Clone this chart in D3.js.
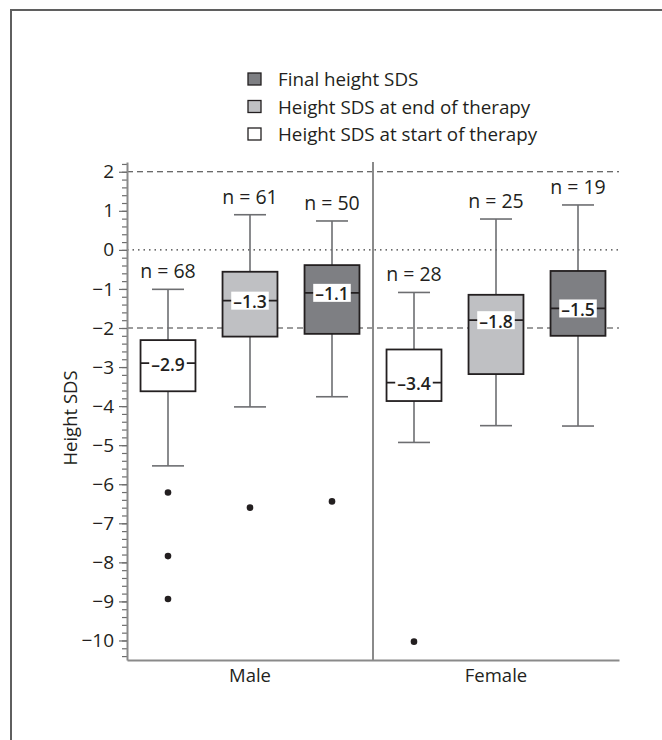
<!DOCTYPE html>
<html>
<head>
<meta charset="utf-8">
<script src="https://cdn.jsdelivr.net/npm/d3@7"></script>
<style>
  html, body { margin: 0; padding: 0; background: #fff; }
  svg { display: block; font-family: "Open Sans", "Noto Sans", sans-serif; }
</style>
</head>
<body>
<svg id="chart" width="662" height="740"></svg>
<script>
// Groups and the three measurement series shown in each group
const groups = ["Male", "Female"];
const series = ["Height SDS at start of therapy", "Height SDS at end of therapy", "Final height SDS"];
const seriesFill = ["#ffffff", "#bfc0c3", "#7e7f83"];

// One entry per box: Male start, end, final, Female start, end, final
const boxGroup  = [0, 0, 0, 1, 1, 1];
const boxSeries = [0, 1, 2, 0, 1, 2];
const nCounts     = [68, 61, 50, 28, 25, 19];
const medians     = [-2.9, -1.3, -1.1, -3.4, -1.8, -1.5];
const q1          = [-3.62, -2.22, -2.15, -3.87, -3.18, -2.20];
const q3          = [-2.31, -0.56, -0.39, -2.55, -1.15, -0.54];
const whiskerLow  = [-5.53, -4.02, -3.76, -4.93, -4.50, -4.51];
const whiskerHigh = [-1.01, 0.90, 0.74, -1.09, 0.79, 1.15];
const outliers    = [[-6.21, -7.84, -8.94], [-6.60], [-6.44], [-10.03], [], []];

// Axis ticks and reference lines
const yTicks = d3.range(-10, 3, 1);
const yMinorTicks = d3.range(-10.4, 2.21, 0.2).map(v => +v.toFixed(1));
const refDashed = [2, -2];
const refDotted = [0];

const svg = d3.select("#chart");
const plotLeft = 127, plotRight = 619, plotTop = 162, plotBottom = 660;

// Outer frame
svg.append("rect")
  .attr("x", 11).attr("y", 10).attr("width", 720).attr("height", 800)
  .attr("fill", "none").attr("stroke", "#5f5f5f").attr("stroke-width", 2);

const y = d3.scaleLinear().domain([-10.5, 2.25]).range([plotBottom, plotTop]);
const x = d3.scaleBand().domain(d3.range(nCounts.length)).range([plotLeft, plotRight])
  .paddingInner(0.33).paddingOuter(0.165);
const xg = d3.scaleBand().domain(groups).range([plotLeft, plotRight]);

// Reference lines
svg.selectAll("line.dash").data(refDashed).join("line")
  .attr("x1", plotLeft).attr("x2", plotRight)
  .attr("y1", d => y(d)).attr("y2", d => y(d))
  .attr("stroke", "#3a3a3a").attr("stroke-width", 1.2).attr("stroke-dasharray", "6,4");
svg.selectAll("line.dot").data(refDotted).join("line")
  .attr("x1", plotLeft).attr("x2", plotRight)
  .attr("y1", d => y(d)).attr("y2", d => y(d))
  .attr("stroke", "#3a3a3a").attr("stroke-width", 1.4).attr("stroke-dasharray", "1.5,4");

// Separator between groups
const sepX = xg.range()[0] + xg.step();
svg.append("line")
  .attr("x1", sepX).attr("x2", sepX)
  .attr("y1", plotTop).attr("y2", plotBottom)
  .attr("stroke", "#8a8a8a").attr("stroke-width", 2);

// Y axis: minor then major ticks
const minorAxis = svg.append("g").attr("transform", `translate(${plotLeft},0)`)
  .call(d3.axisLeft(y).tickValues(yMinorTicks).tickSize(5).tickFormat("").tickSizeOuter(0));
minorAxis.select(".domain").remove();
minorAxis.selectAll("line").attr("stroke", "#6d6d6d").attr("stroke-width", 1.2);

const yAxis = svg.append("g").attr("transform", `translate(${plotLeft},0)`)
  .call(d3.axisLeft(y).tickValues(yTicks).tickSize(8).tickPadding(5).tickSizeOuter(0)
    .tickFormat(d => d < 0 ? "\u2212" + Math.abs(d) : d));
yAxis.select(".domain").attr("stroke", "#8a8a8a").attr("stroke-width", 2);
yAxis.selectAll("line").attr("stroke", "#6d6d6d").attr("stroke-width", 1.2);
yAxis.selectAll("text").attr("font-size", 19).attr("fill", "#231f20")
  .attr("font-family", "'Open Sans', sans-serif");

// X axis baseline with group labels
const xAxis = svg.append("g").attr("transform", `translate(0,${plotBottom})`)
  .call(d3.axisBottom(xg).tickSize(0).tickPadding(9).tickSizeOuter(0));
xAxis.select(".domain").attr("stroke", "#8a8a8a").attr("stroke-width", 2);
xAxis.selectAll("text").attr("font-size", 18.5).attr("fill", "#231f20")
  .attr("font-family", "'Open Sans', sans-serif");

// Y axis title
svg.append("text")
  .attr("transform", `translate(72,${(plotTop + plotBottom) / 2 + 7}) rotate(-90)`)
  .attr("text-anchor", "middle").attr("dominant-baseline", "middle")
  .attr("font-size", 18.5).attr("fill", "#231f20").text("Height SDS");

// Boxes
const idx = d3.range(nCounts.length);
const bw = x.bandwidth();
const cx = i => x(i) + bw / 2;
const capW = 32;

const box = svg.selectAll("g.box").data(idx).join("g").attr("class", "box");

// whisker stems
box.append("line")
  .attr("x1", cx).attr("x2", cx)
  .attr("y1", i => y(whiskerHigh[i])).attr("y2", i => y(q3[i]))
  .attr("stroke", "#6d6e71").attr("stroke-width", 1.6);
box.append("line")
  .attr("x1", cx).attr("x2", cx)
  .attr("y1", i => y(q1[i])).attr("y2", i => y(whiskerLow[i]))
  .attr("stroke", "#6d6e71").attr("stroke-width", 1.6);
// caps
[whiskerHigh, whiskerLow].forEach(arr => {
  box.append("line")
    .attr("x1", i => cx(i) - capW / 2).attr("x2", i => cx(i) + capW / 2)
    .attr("y1", i => y(arr[i])).attr("y2", i => y(arr[i]))
    .attr("stroke", "#6d6e71").attr("stroke-width", 1.6);
});
// box body
box.append("rect")
  .attr("x", i => x(i)).attr("width", bw)
  .attr("y", i => y(q3[i])).attr("height", i => y(q1[i]) - y(q3[i]))
  .attr("fill", i => seriesFill[boxSeries[i]])
  .attr("stroke", "#231f20").attr("stroke-width", 1.8);
// median line
box.append("line")
  .attr("x1", i => x(i)).attr("x2", i => x(i) + bw)
  .attr("y1", i => y(medians[i])).attr("y2", i => y(medians[i]))
  .attr("stroke", "#231f20").attr("stroke-width", 1.8);
// median label with white backing
const fmt = v => (v < 0 ? "\u2013" : "") + Math.abs(v).toFixed(1);
box.each(function(i) {
  const g = d3.select(this);
  const bg = g.append("rect").attr("fill", "#fff");
  const t = g.append("text")
    .attr("x", cx(i)).attr("y", y(medians[i]) + 0.5)
    .attr("text-anchor", "middle").attr("dominant-baseline", "central")
    .attr("font-size", 17.5).attr("font-weight", 600).attr("fill", "#231f20")
    .text(fmt(medians[i]));
  const bb = t.node().getBBox();
  bg.attr("x", bb.x - 2).attr("y", y(medians[i]) - 9)
    .attr("width", bb.width + 4).attr("height", 18);
});
// sample size labels
box.append("text")
  .attr("x", cx).attr("y", i => y(whiskerHigh[i]) - 11)
  .attr("text-anchor", "middle").attr("font-size", 19.5).attr("fill", "#231f20")
  .text(i => `n = ${nCounts[i]}`);
// outliers
box.selectAll("circle").data(i => outliers[i].map(v => ({ i, v }))).join("circle")
  .attr("cx", d => cx(d.i)).attr("cy", d => y(d.v)).attr("r", 3.3)
  .attr("fill", "#231f20");

// Legend (final first)
const legendOrder = [2, 1, 0];
const lg = svg.append("g").attr("transform", "translate(248,79)");
const row = lg.selectAll("g").data(legendOrder).join("g")
  .attr("transform", (d, k) => `translate(0,${k * 27.5})`);
row.append("rect").attr("x", 0).attr("y", -6).attr("width", 13).attr("height", 12)
  .attr("fill", d => seriesFill[d]).attr("stroke", "#231f20").attr("stroke-width", 1.3);
row.append("text").attr("x", 30).attr("y", 0).attr("dominant-baseline", "central")
  .attr("font-size", 18.8).attr("fill", "#231f20").text(d => series[d]);
</script>
</body>
</html>
